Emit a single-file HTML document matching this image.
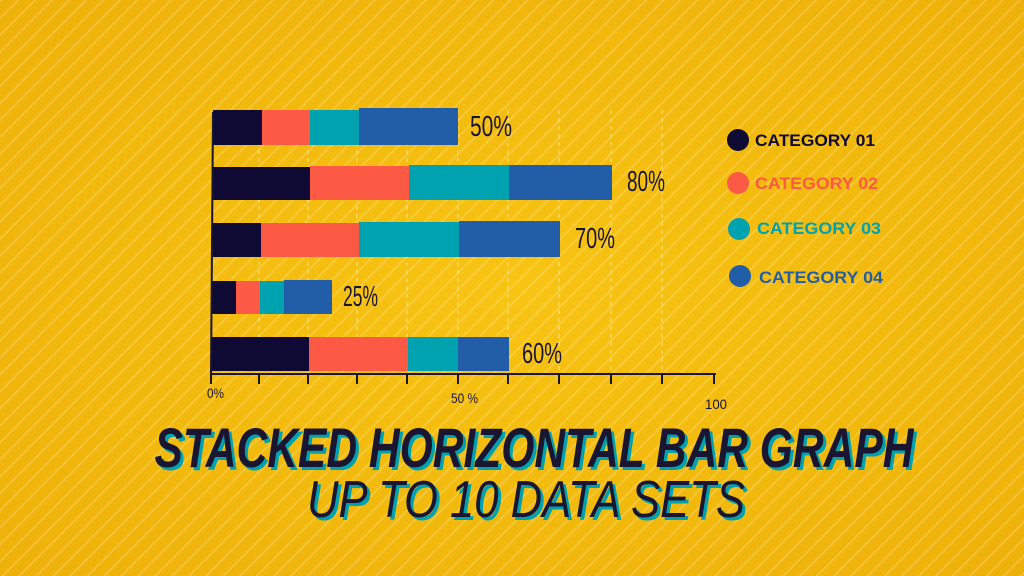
<!DOCTYPE html>
<html><head><meta charset="utf-8"><style>
html,body{margin:0;padding:0;width:1024px;height:576px;overflow:hidden;background:#f2b705}
</style></head><body>
<svg width="1024" height="576" viewBox="0 0 1024 576" xmlns="http://www.w3.org/2000/svg">
<defs>
<radialGradient id="bg" cx="0.5" cy="0.5" r="0.7">
<stop offset="0" stop-color="#f8c412"/><stop offset="1" stop-color="#eeb109"/>
</radialGradient>
<pattern id="st" width="12" height="12" patternUnits="userSpaceOnUse" patternTransform="rotate(45)">
<rect width="12" height="12" fill="none"/><rect width="2" height="12" fill="#ffffff" opacity="0.18"/>
</pattern>
</defs>
<rect width="1024" height="576" fill="url(#bg)"/>
<rect width="1024" height="576" fill="url(#st)"/>
<g stroke="#fff" stroke-opacity="0.55" stroke-dasharray="4 4" stroke-width="1">
<line x1="259" y1="110" x2="259" y2="374"/><line x1="308" y1="110" x2="308" y2="374"/>
<line x1="357" y1="110" x2="357" y2="374"/><line x1="407" y1="110" x2="407" y2="374"/>
<line x1="458" y1="110" x2="458" y2="374"/><line x1="508" y1="110" x2="508" y2="374"/>
<line x1="559" y1="110" x2="559" y2="374"/><line x1="611" y1="110" x2="611" y2="374"/>
<line x1="662" y1="110" x2="662" y2="374"/>
</g>
<g>
<rect x="213" y="110" width="49" height="35" fill="#0f0a33"/><rect x="262" y="110" width="48" height="35" fill="#fc5a45"/><rect x="310" y="110" width="49" height="35" fill="#01a2b0"/><rect x="359" y="108" width="99" height="37" fill="#225ea8"/>
<rect x="213" y="167" width="97" height="33" fill="#0f0a33"/><rect x="310" y="166" width="99" height="34" fill="#fc5a45"/><rect x="409" y="165" width="100" height="35" fill="#01a2b0"/><rect x="509" y="165" width="103" height="35" fill="#225ea8"/>
<rect x="213" y="223" width="48" height="34" fill="#0f0a33"/><rect x="261" y="223" width="98" height="34" fill="#fc5a45"/><rect x="359" y="222" width="100" height="35" fill="#01a2b0"/><rect x="459" y="221" width="101" height="36" fill="#225ea8"/>
<rect x="211" y="281" width="25" height="33" fill="#0f0a33"/><rect x="236" y="281" width="24" height="33" fill="#fc5a45"/><rect x="260" y="281" width="24" height="33" fill="#01a2b0"/><rect x="284" y="280" width="48" height="34" fill="#225ea8"/>
<rect x="211" y="337" width="98" height="34" fill="#0f0a33"/><rect x="309" y="337" width="99" height="34" fill="#fc5a45"/><rect x="408" y="337" width="50" height="34" fill="#01a2b0"/><rect x="458" y="337" width="51" height="34" fill="#225ea8"/>
</g>
<g stroke="#1a1530" stroke-width="2" fill="none">
<line x1="213" y1="112" x2="211" y2="375"/>
<line x1="210" y1="374" x2="716" y2="374"/>
<line x1="211" y1="374" x2="211" y2="384"/><line x1="259" y1="374" x2="259" y2="384"/><line x1="308" y1="374" x2="308" y2="384"/><line x1="357" y1="374" x2="357" y2="384"/><line x1="407" y1="374" x2="407" y2="384"/><line x1="458" y1="374" x2="458" y2="384"/><line x1="508" y1="374" x2="508" y2="384"/><line x1="559" y1="374" x2="559" y2="384"/><line x1="611" y1="374" x2="611" y2="384"/><line x1="662" y1="374" x2="662" y2="384"/><line x1="714" y1="374" x2="714" y2="384"/>
</g>
<g font-family="'Liberation Sans',sans-serif" fill="#1a1530">
<text x="207" y="398" font-size="14" textLength="17" lengthAdjust="spacingAndGlyphs">0%</text>
<text x="451" y="403" font-size="14" textLength="27" lengthAdjust="spacingAndGlyphs">50 %</text>
<text x="705" y="409" font-size="14" textLength="22" lengthAdjust="spacingAndGlyphs">100</text>
<g font-size="29">
<text x="470" y="136" textLength="42" lengthAdjust="spacingAndGlyphs">50%</text>
<text x="627" y="191" textLength="38" lengthAdjust="spacingAndGlyphs">80%</text>
<text x="575" y="248" textLength="40" lengthAdjust="spacingAndGlyphs">70%</text>
<text x="343" y="306" textLength="35" lengthAdjust="spacingAndGlyphs">25%</text>
<text x="522" y="363" textLength="40" lengthAdjust="spacingAndGlyphs">60%</text>
</g>
</g>
<g font-family="'Liberation Sans',sans-serif" font-size="17" font-weight="600">
<circle cx="738" cy="140" r="11" fill="#0f0a33"/><text x="755" y="146" fill="#0f0a33" textLength="120" lengthAdjust="spacingAndGlyphs">CATEGORY 01</text>
<circle cx="738" cy="183" r="11" fill="#fc5a45"/><text x="755" y="189" fill="#fc5a45" textLength="123" lengthAdjust="spacingAndGlyphs">CATEGORY 02</text>
<circle cx="739" cy="229" r="11" fill="#01a2b0"/><text x="757" y="234" fill="#01a2b0" textLength="124" lengthAdjust="spacingAndGlyphs">CATEGORY 03</text>
<circle cx="740" cy="276" r="11" fill="#225ea8"/><text x="759" y="283" fill="#225ea8" textLength="124" lengthAdjust="spacingAndGlyphs">CATEGORY 04</text>
</g>
<g font-family="'Liberation Sans',sans-serif" font-style="italic" text-anchor="middle">
<text x="537" y="470" font-size="56" font-weight="bold" fill="#01a2b0" textLength="759" lengthAdjust="spacingAndGlyphs">STACKED HORIZONTAL BAR GRAPH</text>
<text x="534" y="467" font-size="56" font-weight="bold" fill="#1a1530" textLength="759" lengthAdjust="spacingAndGlyphs">STACKED HORIZONTAL BAR GRAPH</text>
<text x="529" y="520" font-size="52" fill="#01a2b0" textLength="438" lengthAdjust="spacingAndGlyphs">UP TO 10 DATA SETS</text>
<text x="526" y="517" font-size="52" fill="#1a1530" textLength="438" lengthAdjust="spacingAndGlyphs">UP TO 10 DATA SETS</text>
</g>
</svg>
</body></html>
